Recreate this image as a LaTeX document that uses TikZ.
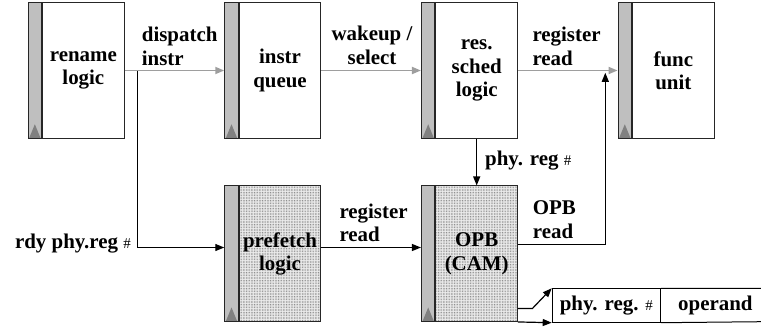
\documentclass[tikz,border=0pt]{standalone}
\usepackage{fontspec}
\setmainfont{Liberation Serif}
\usetikzlibrary{arrows.meta,patterns.meta}
\begin{document}
\begin{tikzpicture}[x=1bp,y=-1bp,
  every node/.style={font=\fontsize{21}{23.5}\selectfont\bfseries, inner sep=0pt},
  whitebox/.style={draw=black!85, line width=1bp, fill=white, minimum width=81.5bp, minimum height=135.5bp, align=center},
  dotbox/.style={whitebox, preaction={fill=black!8}, pattern={Dots[distance=1.6bp, radius=0.35bp]}, pattern color=black!70},
  sidebar/.style={draw=black!85, line width=1bp, fill=black!25, minimum width=13.5bp, minimum height=135.5bp, anchor=north east,
    path picture={\fill[black!50] ([xshift=1bp]path picture bounding box.south west) -- ([xshift=-1bp]path picture bounding box.south east) -- ([yshift=14bp]path picture bounding box.south) -- cycle;}},
  cell/.style={draw=black, line width=1bp, minimum width=108.3bp, minimum height=33.4bp},
  greyarrow/.style={draw=black!38, line width=1.8bp, -{Triangle[length=9bp,width=7bp]}},
  blackarrow/.style={draw=black, line width=1.2bp, -{Triangle[length=9bp,width=7bp]}},
  blackline/.style={draw=black, line width=1.2bp},
  lbl/.style={align=left}
]
\useasboundingbox (0,0) rectangle (761,330);
\newcommand\hashsign{{\fontsize{15}{15}\selectfont\mdseries\#}}

% top row
\node[whitebox] (rn) at (83.35,70.5) {rename\\logic};
\node[sidebar] (rnbar) at (rn.north west) {};
\node[whitebox] (iq) at (280,70.5) {instr\\queue};
\node[sidebar] (iqbar) at (iq.north west) {};
\node[whitebox] (rs) at (476.7,70.5) {res.\\sched\\logic};
\node[sidebar] (rsbar) at (rs.north west) {};
\node[whitebox] (fu) at (673.3,70.5) {func\\unit};
\node[sidebar] (fubar) at (fu.north west) {};

% bottom row
\node[dotbox] (pf) at (280,253.7) {prefetch\\logic};
\node[sidebar] (pfbar) at (pf.north west) {};
\node[dotbox] (op) at (476.7,253.7) {OPB\\(CAM)};
\node[sidebar] (opbar) at (op.north west) {};

% table
\node[cell, anchor=north west] (c1) at (551.7,288.3) {phy. reg. \hashsign};
\node[minimum width=108.3bp, minimum height=33.4bp, anchor=north west] (c2) at (c1.north east) {operand};
\draw[line width=1bp] (c1.north east) -- (761,288.3) (c1.south east) -- (761,321.7);

% connectors
\coordinate (br) at (137.3,70.5);
\draw[blackarrow] (br) |- ([yshift=6.2bp]pfbar.west);
\draw[greyarrow] (rn.east) -- (iqbar.west);
\draw[greyarrow] (iq.east) -- (rsbar.west);
\draw[greyarrow] (rs.east) -- (fubar.west);
\draw[blackarrow] (rs.south) -- (op.north);
\draw[blackarrow] ([yshift=6.2bp]pf.east) -- ([yshift=6.2bp]opbar.west);
\coordinate (fuin) at (605.3,72.8);
\draw[blackarrow] ([yshift=9.4bp]op.east) -| (fuin);
\draw[blackline, -{Triangle[length=9bp,width=7bp]}] ([yshift=13.4bp]op.south east) -- ++(14.4,0) -- (c1.north west);
\draw[blackarrow] (op.south east) -- (c1.south west);

% labels
\node[lbl, anchor=base west] (l1) at (141.7,65) {dispatch\\instr};
\node[align=center, anchor=base] (l2) at (372,64) {wakeup /\\select};
\node[lbl, anchor=base west] (l3) at (532.3,65) {register\\read};
\node[anchor=base west] (l4) at (485,165) {phy. reg \hashsign};
\node[anchor=base east] (l5) at (131,248) {rdy phy.reg \hashsign};
\node[lbl, anchor=base west] (l6) at (339.3,241.7) {register\\read};
\node[lbl, anchor=base west] (l7) at (532.7,238.3) {OPB\\read};
\end{tikzpicture}
\end{document}
